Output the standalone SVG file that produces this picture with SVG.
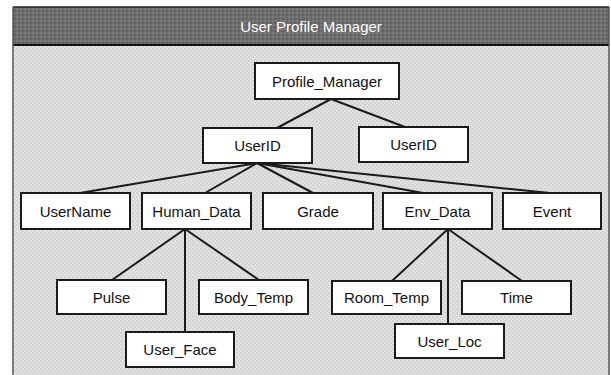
<svg xmlns="http://www.w3.org/2000/svg" width="611" height="375" viewBox="0 0 611 375">
<style>
.node rect{fill:#ffffff;stroke:#1a1a1a;stroke-width:2}
.node text{font-family:"Liberation Sans",Arial,sans-serif;font-size:15px;fill:#111;text-anchor:middle;dominant-baseline:central}
.edges line{stroke:#1a1a1a;stroke-width:2}
.title{font-family:"Liberation Sans",Arial,sans-serif;font-size:15px;fill:#ffffff;text-anchor:middle;dominant-baseline:central}
</style>
<defs>
<pattern id="tex" width="4" height="4" patternUnits="userSpaceOnUse">
<rect width="4" height="4" fill="#e2e2e2"/>
<rect width="2" height="2" fill="#d2d2d2"/>
<rect x="2" y="2" width="2" height="2" fill="#d6d6d6"/>
</pattern>
<pattern id="tex2" width="4" height="4" patternUnits="userSpaceOnUse">
<rect width="4" height="4" fill="#6c6c6c"/>
<rect width="2" height="2" fill="#7a7a7a"/>
<rect x="2" y="2" width="2" height="2" fill="#626262"/>
</pattern>
</defs>
<rect x="0" y="0" width="611" height="375" fill="#ffffff"/>
<rect x="13" y="45" width="596" height="330" fill="url(#tex)"/>
<rect x="13" y="7" width="596" height="38" fill="url(#tex2)"/>
<line x1="13" y1="7" x2="609" y2="7" stroke="#222" stroke-width="1.5"/>
<line x1="13" y1="45" x2="609" y2="45" stroke="#111" stroke-width="2"/>
<line x1="13" y1="7" x2="13" y2="375" stroke="#555" stroke-width="1.5"/>
<line x1="609" y1="7" x2="609" y2="375" stroke="#555" stroke-width="1.5"/>
<text class="title" x="311" y="26">User Profile Manager</text>
<g class="edges">
<line x1="331" y1="99" x2="277" y2="128"/>
<line x1="331" y1="99" x2="405" y2="127"/>
<line x1="257" y1="163" x2="80" y2="193"/>
<line x1="257" y1="163" x2="205" y2="193"/>
<line x1="257" y1="163" x2="313" y2="193"/>
<line x1="257" y1="163" x2="423" y2="193"/>
<line x1="257" y1="163" x2="550" y2="193"/>
<line x1="185" y1="229" x2="112" y2="280"/>
<line x1="185" y1="229" x2="259" y2="280"/>
<line x1="185" y1="229" x2="185" y2="332"/>
<line x1="448" y1="229" x2="392" y2="281"/>
<line x1="448" y1="229" x2="522" y2="281"/>
<line x1="448" y1="229" x2="448" y2="324"/>
</g>
<g id="profile_manager" class="node"><rect x="255" y="63" width="144" height="36"/><text x="327" y="81">Profile_Manager</text></g>
<g id="userid1" class="node"><rect x="203" y="128" width="109" height="35"/><text x="257.5" y="145.5">UserID</text></g>
<g id="userid2" class="node"><rect x="359" y="127" width="109" height="35"/><text x="413.5" y="144.5">UserID</text></g>
<g id="username" class="node"><rect x="21" y="193" width="109" height="36"/><text x="75.5" y="211">UserName</text></g>
<g id="human_data" class="node"><rect x="142" y="193" width="109" height="36"/><text x="196.5" y="211">Human_Data</text></g>
<g id="grade" class="node"><rect x="263" y="193" width="110" height="36"/><text x="318" y="211">Grade</text></g>
<g id="env_data" class="node"><rect x="383" y="193" width="109" height="36"/><text x="437.5" y="211">Env_Data</text></g>
<g id="event" class="node"><rect x="503" y="193" width="98" height="36"/><text x="552" y="211">Event</text></g>
<g id="pulse" class="node"><rect x="57" y="280" width="109" height="34"/><text x="111.5" y="297">Pulse</text></g>
<g id="body_temp" class="node"><rect x="199" y="280" width="109" height="34"/><text x="253.5" y="297">Body_Temp</text></g>
<g id="user_face" class="node"><rect x="126" y="332" width="108" height="35"/><text x="180" y="349.5">User_Face</text></g>
<g id="room_temp" class="node"><rect x="332" y="281" width="109" height="33"/><text x="386.5" y="297.5">Room_Temp</text></g>
<g id="time" class="node"><rect x="462" y="281" width="109" height="33"/><text x="516.5" y="297.5">Time</text></g>
<g id="user_loc" class="node"><rect x="395" y="324" width="109" height="34"/><text x="449.5" y="341">User_Loc</text></g>
</svg>
